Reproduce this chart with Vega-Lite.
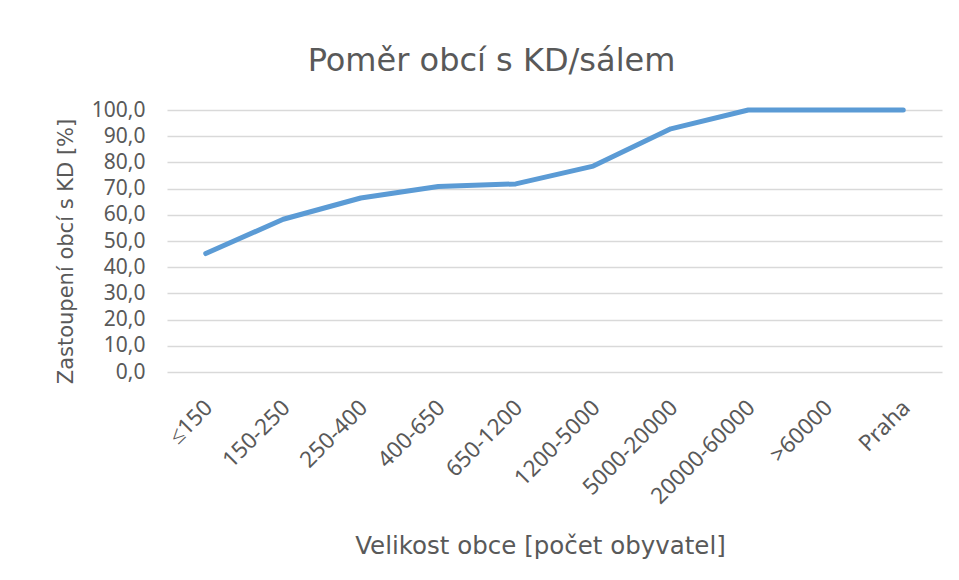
{
  "$schema": "https://vega.github.io/schema/vega-lite/v6.json",
  "autosize": "none",
  "width": 775,
  "height": 262,
  "padding": {"left": 167, "top": 110, "right": 17, "bottom": 208},
  "background": "white",
  "title": {
    "text": "Poměr obcí s KD/sálem",
    "fontSize": 32,
    "font": "DejaVu Sans",
    "fontWeight": "normal",
    "color": "#595959",
    "anchor": "middle",
    "dx": -63,
    "offset": 21
  },
  "data": {
    "values": [
      {"kategorie": "≤150", "podil": 45.2},
      {"kategorie": "150-250", "podil": 58.3},
      {"kategorie": "250-400", "podil": 66.4},
      {"kategorie": "400-650", "podil": 70.8},
      {"kategorie": "650-1200", "podil": 71.8},
      {"kategorie": "1200-5000", "podil": 78.6},
      {"kategorie": "5000-20000", "podil": 92.8},
      {"kategorie": "20000-60000", "podil": 100},
      {"kategorie": ">60000", "podil": 100},
      {"kategorie": "Praha", "podil": 100}
    ]
  },
  "mark": {"type": "line", "color": "#5b9bd5", "strokeWidth": 5, "strokeCap": "round", "strokeJoin": "round"},
  "encoding": {
    "x": {
      "field": "kategorie",
      "type": "ordinal",
      "sort": null,
      "title": "Velikost obce [počet obyvatel]",
      "axis": {
        "labelAngle": -45,
        "labelFontSize": 22.5,
        "labelFont": "Noto Sans",
        "labelColor": "#595959",
        "labelPadding": 24,
        "labelOffset": -5,
        "ticks": false,
        "domain": false,
        "grid": false,
        "titleFontSize": 24.5,
        "titleFont": "DejaVu Sans",
        "titleFontWeight": "normal",
        "titleColor": "#595959",
        "titleX": 373,
        "titlePadding": 26
      }
    },
    "y": {
      "field": "podil",
      "type": "quantitative",
      "scale": {"domain": [0, 100], "nice": false},
      "title": "Zastoupení obcí s KD [%]",
      "axis": {
        "values": [0, 10, 20, 30, 40, 50, 60, 70, 80, 90, 100],
        "labelExpr": "replace(format(datum.value, '.1f'), '.', ',')",
        "labelFontSize": 21,
        "labelFont": "Noto Sans",
        "labelColor": "#595959",
        "labelPadding": 22,
        "ticks": false,
        "domain": false,
        "grid": true,
        "gridColor": "#d9d9d9",
        "gridWidth": 1.5,
        "titleFontSize": 21,
        "titleFont": "DejaVu Sans",
        "titleFontWeight": "normal",
        "titleColor": "#595959",
        "titleY": 141,
        "titlePadding": 15
      }
    }
  },
  "config": {"view": {"stroke": null}}
}
